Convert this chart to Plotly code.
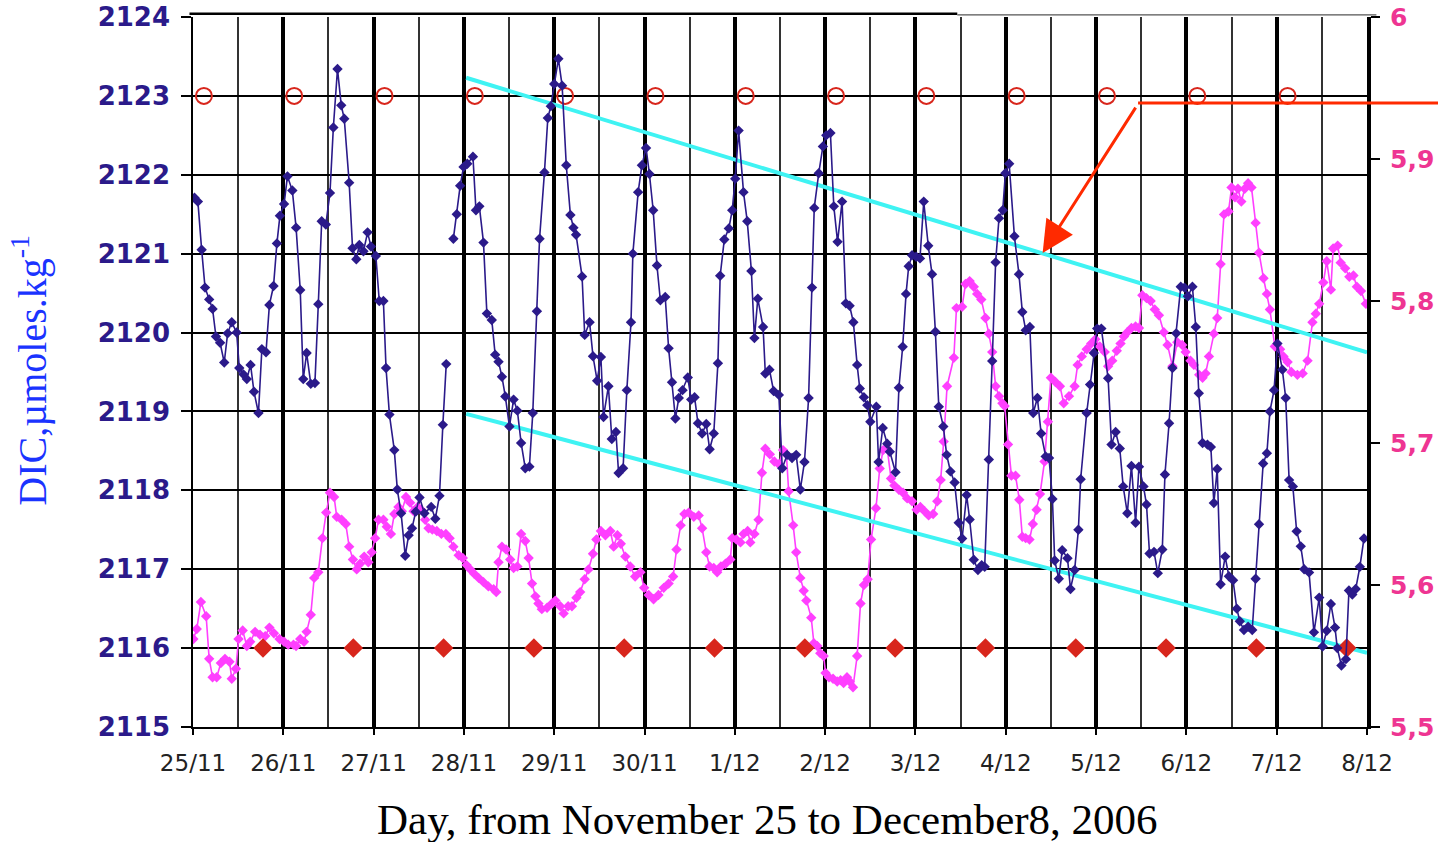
import datetime as dt
import plotly.graph_objects as go

# ---------------- data (hours since 25/11/2006 00:00) ----------------
dic_hours = [
    0.4, 1.3, 2.3, 3.2, 4.3, 5.2, 6.1, 7.2, 8.3, 9.2,
    10.3, 11.6, 12.3, 13.4, 14.3, 15.3, 16.2, 17.4, 18.3, 19.4,
    20.3, 21.4, 22.3, 23.1, 24.2, 25.1, 26.4, 27.4, 28.5, 29.3,
    30.2, 31.3, 32.4, 33.3, 34.2, 35.3, 36.4, 37.3, 38.4, 39.4,
    40.2, 41.5, 42.4, 43.4, 44.2, 45.3, 46.4, 47.3, 48.6, 49.5,
    50.6, 51.3, 52.2, 53.5, 54.3, 55.3, 56.4, 57.3, 58.2, 59.2,
    60.2, 61.5, 63.3, 64.4, 65.5, 66.4, 67.3,
    None,
    69.2, 70.1, 71.0, 71.9, 72.9, 74.4, 75.2, 76.1, 77.2, 78.1,
    79.4, 80.3, 81.2, 82.1, 83.0, 84.1, 85.2, 86.2, 87.2, 88.3,
    89.4, 90.3, 91.4, 92.1, 93.4, 94.3, 95.1, 96.0, 97.1, 98.1,
    99.2, 100.3, 101.1, 101.8, 103.4, 104.1, 105.4, 106.3, 107.4, 108.4,
    109.1, 110.4, 111.3, 112.4, 113.1, 114.3, 115.3, 116.4, 116.9, 118.3,
    119.3, 120.4, 121.3, 122.3, 123.3, 124.2, 125.5, 126.4, 127.3, 128.2,
    129.1, 130.1, 131.5, 132.4, 133.3, 134.2, 135.3, 136.4, 137.3, 138.4,
    139.5, 140.1, 141.2, 142.4, 143.3, 144.1, 145.0, 146.3, 147.3, 148.4,
    149.2, 150.1, 151.5, 152.1, 153.2, 154.3, 155.7, 156.6, 157.9, 159.2,
    160.3, 161.4, 162.5, 163.6, 164.5, 165.1, 166.3, 167.4, 168.3, 169.4,
    170.3, 171.3, 172.5, 173.5, 174.5, 175.5, 176.5, 177.2, 178.3, 179.2,
    180.0, 181.6, 182.2, 183.3, 184.5, 185.2, 186.7, 187.6, 188.6, 189.5,
    190.2, 191.1, 192.2, 193.2, 194.2, 195.4, 196.4, 197.3, 198.2, 199.4,
    200.3, 201.3, 202.4, 203.5, 204.4, 205.6, 206.4, 207.5, 208.6, 209.6,
    210.4, 211.5, 212.4, 213.3, 214.2, 215.2, 215.9, 216.9, 218.3, 219.5,
    220.4, 221.3, 222.4, 223.3, 224.4, 225.4, 226.6, 227.5, 228.4, 229.0,
    230.1, 231.0, 232.4, 233.2, 234.3, 235.3, 235.9, 237.5, 238.4, 239.4,
    240.3, 241.4, 243.2, 244.1, 245.2, 246.3, 247.2, 248.3, 249.4, 250.5,
    251.4, 252.6, 253.4, 254.2, 255.4, 256.4, 257.6, 258.3, 259.4, 260.3,
    261.3, 262.5, 263.5, 264.4, 265.6, 266.5, 267.3, 268.3, 269.6, 270.5,
    271.3, 272.2, 273.1, 274.3, 275.3, 276.4, 277.4, 278.2, 279.3, 280.4,
    281.5, 282.4, 283.3, 284.4, 285.4, 286.2, 287.3, 288.2, 289.5, 290.4,
    291.3, 292.3, 293.3, 294.4, 295.3, 296.6, 297.9, 299.3, 300.2, 301.3,
    302.4, 303.5, 304.1, 305.2, 306.4, 307.2, 308.1, 309.0, 310.1, 311.2,
]
dic_values = [
    2121.71, 2121.66, 2121.05, 2120.57, 2120.42, 2120.30, 2119.95, 2119.87, 2119.62, 2119.99,
    2120.13, 2120.00, 2119.55, 2119.47, 2119.41, 2119.59, 2119.25, 2118.98, 2119.79, 2119.75,
    2120.35, 2120.59, 2121.13, 2121.48, 2121.63, 2121.98, 2121.80, 2121.33, 2120.54, 2119.41,
    2119.74, 2119.35, 2119.36, 2120.36, 2121.41, 2121.37, 2121.77, 2122.60, 2123.34, 2122.88,
    2122.71, 2121.90, 2121.07, 2120.93, 2121.11, 2121.03, 2121.27, 2121.09, 2120.97, 2120.40,
    2120.40, 2119.55, 2118.96, 2118.51, 2118.01, 2117.71, 2117.17, 2117.43, 2117.52, 2117.73,
    2117.91, 2117.71, 2117.79, 2117.64, 2117.93, 2118.83, 2119.60,
    None,
    2121.19, 2121.50, 2121.86, 2122.10, 2122.14, 2122.23, 2121.55, 2121.60, 2121.14, 2120.24,
    2120.16, 2119.72, 2119.63, 2119.44, 2119.19, 2118.81, 2119.15, 2119.01, 2118.60, 2118.28,
    2118.30, 2118.98, 2120.27, 2121.19, 2122.03, 2122.72, 2122.87, 2123.15, 2123.47, 2123.13,
    2122.12, 2121.49, 2121.33, 2121.24, 2120.71, 2119.97, 2120.13, 2119.70, 2119.39, 2119.69,
    2118.93, 2119.32, 2118.65, 2118.74, 2118.22, 2118.28, 2119.27, 2120.13, 2121.00, 2121.78,
    2122.12, 2122.34, 2122.01, 2121.55, 2120.85, 2120.41, 2120.45, 2119.80, 2119.37, 2118.91,
    2119.17, 2119.27, 2119.43, 2119.15, 2119.18, 2118.85, 2118.72, 2118.84, 2118.52, 2118.72,
    2119.61, 2120.72, 2121.18, 2121.32, 2121.55, 2121.95, 2122.56, 2121.78, 2121.41, 2120.78,
    2119.93, 2120.43, 2120.07, 2119.48, 2119.53, 2119.26, 2119.21, 2118.28, 2118.45, 2118.41,
    2118.45, 2118.01, 2118.36, 2119.17, 2120.57, 2121.58, 2122.02, 2122.36, 2122.50, 2122.53,
    2121.60, 2121.15, 2121.66, 2120.37, 2120.34, 2120.13, 2119.59, 2119.29, 2119.18, 2119.08,
    2118.87, 2119.06, 2118.36, 2118.79, 2118.59, 2118.49, 2118.23, 2119.30, 2119.82, 2120.49,
    2120.84, 2120.98, 2120.96, 2120.94, 2121.66, 2121.10, 2120.74, 2120.01, 2119.06, 2118.81,
    2118.45, 2118.24, 2118.10, 2117.59, 2117.39, 2117.94, 2117.63, 2117.12, 2116.99, 2117.05,
    2117.03, 2118.39, 2119.64, 2120.89, 2121.45, 2121.55, 2122.02, 2122.14, 2121.22, 2120.74,
    2120.26, 2120.03, 2120.07, 2118.98, 2119.17, 2118.72, 2118.43, 2118.41, 2117.89, 2117.11,
    2116.88, 2117.24, 2117.14, 2116.75, 2116.99, 2117.50, 2118.14, 2118.98, 2119.34, 2119.74,
    2120.05, 2120.05, 2119.42, 2118.58, 2118.74, 2118.53, 2118.05, 2117.71, 2118.31, 2117.59,
    2118.30, 2118.05, 2117.82, 2117.20, 2117.22, 2116.95, 2117.25, 2118.20, 2118.85, 2119.55,
    2119.99, 2120.58, 2120.57, 2120.46, 2120.58, 2120.07, 2119.23, 2118.60, 2118.58, 2118.55,
    2117.84, 2118.27, 2116.81, 2117.16, 2116.91, 2116.86, 2116.50, 2116.34, 2116.23, 2116.27,
    2116.23, 2116.88, 2117.57, 2118.34, 2118.47, 2119.00, 2119.27, 2119.86, 2119.53, 2119.17,
    2118.13, 2118.05, 2117.48, 2117.29, 2117.00, 2116.96, 2116.20, 2116.64, 2116.02, 2116.22,
    2116.56, 2116.26, 2116.00, 2115.78, 2115.86, 2116.73, 2116.68, 2116.75, 2117.03, 2117.39,
]

ph_hours = [
    0.1, 1.0, 2.1, 3.5, 4.3, 5.2, 6.3, 7.4, 8.5, 9.7,
    10.3, 11.4, 12.1, 13.2, 14.3, 15.2, 16.5, 17.8, 19.2, 20.3,
    21.5, 23.0, 24.2, 25.3, 26.7, 27.4, 28.5, 29.5, 30.2, 31.3,
    32.2, 33.3, 34.4, 35.4, 36.4, 37.5, 38.2, 39.5, 40.6, 41.5,
    42.5, 43.5, 44.4, 45.5, 46.6, 47.5, 48.4, 49.3, 50.6, 51.5,
    52.6, 53.5, 54.6, 55.5, 56.6, 57.7, 58.6, 59.7, 60.6, 61.7,
    62.6, 63.6, 64.8, 66.0, 67.2, 68.2, 69.2, 70.6, 71.7, 72.7,
    73.7, 74.7, 75.9, 77.2, 78.5, 79.9, 80.6, 81.2, 82.1, 83.2,
    84.3, 85.2, 86.2, 87.2, 88.3, 89.2, 90.1, 91.0, 91.8, 92.7,
    94.1, 95.4, 96.3, 97.6, 98.5, 99.7, 100.7, 101.9, 102.9, 104.1,
    105.1, 106.3, 107.2, 108.4, 109.6, 110.9, 111.8, 112.8, 113.7, 114.9,
    116.2, 117.5, 118.9, 119.9, 121.1, 122.4, 123.7, 125.1, 126.4, 127.6,
    128.5, 129.6, 130.6, 131.7, 133.1, 134.4, 135.3, 136.4, 137.3, 138.4,
    139.3, 140.3, 141.5, 142.8, 143.3, 144.4, 145.5, 146.3, 147.4, 148.1,
    149.2, 150.3, 151.2, 152.1, 153.3, 154.5, 155.7, 156.8, 157.7, 158.3,
    159.5, 160.3, 161.4, 162.3, 163.0, 164.3, 165.0, 165.9, 166.7, 167.6,
    168.1, 169.0, 170.1, 171.2, 172.1, 172.9, 173.8, 174.5, 175.4, 176.5,
    177.4, 178.3, 179.3, 180.2, 181.5, 182.5, 183.4, 184.5, 185.5, 186.4,
    187.6, 188.7, 189.8, 191.1, 192.3, 193.3, 194.4, 195.5, 196.7, 197.8,
    198.7, 199.5, 200.4, 202.2, 202.9, 204.4, 205.3, 206.4, 207.5, 208.4,
    209.5, 210.6, 211.5, 212.4, 213.3, 214.2, 215.1, 215.7, 216.6, 217.5,
    218.6, 219.6, 220.4, 221.3, 222.3, 223.2, 224.2, 225.1, 226.3, 227.2,
    228.0, 229.2, 230.4, 231.4, 232.8, 234.3, 235.1, 236.2, 237.5, 238.7,
    239.8, 241.0, 242.3, 243.2, 244.3, 245.5, 246.5, 247.4, 248.3, 249.4,
    250.5, 251.4, 252.3, 253.4, 254.5, 255.6, 256.7, 258.0, 259.0, 260.3,
    261.6, 262.9, 263.8, 265.1, 266.0, 267.4, 268.3, 269.1, 270.0, 271.3,
    272.2, 273.1, 274.0, 275.2, 276.0, 276.9, 277.7, 278.6, 279.5, 280.4,
    281.3, 282.4, 283.3, 284.5, 285.4, 286.2, 287.5, 288.9, 289.8, 290.9,
    291.9, 293.5, 294.9, 296.2, 297.5, 298.4, 299.3, 300.4, 301.3, 302.4,
    303.0, 304.2, 305.0, 306.2, 307.3, 308.4, 309.3, 310.4, 311.7,
]
ph_values = [
    5.562, 5.569, 5.588, 5.578, 5.548, 5.535, 5.535, 5.545, 5.548, 5.546,
    5.534, 5.541, 5.562, 5.568, 5.557, 5.560, 5.567, 5.565, 5.564, 5.570,
    5.566, 5.562, 5.560, 5.558, 5.558, 5.557, 5.562, 5.560, 5.567, 5.579,
    5.605, 5.609, 5.633, 5.651, 5.665, 5.662, 5.648, 5.646, 5.643, 5.627,
    5.618, 5.611, 5.615, 5.620, 5.616, 5.623, 5.633, 5.646, 5.646, 5.641,
    5.636, 5.650, 5.655, 5.652, 5.662, 5.658, 5.652, 5.655, 5.653, 5.646,
    5.640, 5.639, 5.638, 5.636, 5.636, 5.633, 5.627, 5.621, 5.619, 5.614,
    5.611, 5.608, 5.605, 5.602, 5.599, 5.597, 5.595, 5.616, 5.627, 5.625,
    5.618, 5.612, 5.613, 5.636, 5.631, 5.619, 5.601, 5.592, 5.587, 5.583,
    5.584, 5.587, 5.589, 5.585, 5.580, 5.585, 5.585, 5.591, 5.595, 5.604,
    5.611, 5.622, 5.632, 5.638, 5.635, 5.638, 5.627, 5.635, 5.629, 5.620,
    5.613, 5.606, 5.609, 5.598, 5.593, 5.590, 5.593, 5.598, 5.601, 5.606,
    5.625, 5.642, 5.650, 5.651, 5.648, 5.649, 5.640, 5.623, 5.613, 5.612,
    5.609, 5.613, 5.615, 5.618, 5.633, 5.632, 5.630, 5.636, 5.638, 5.630,
    5.636, 5.646, 5.679, 5.696, 5.692, 5.687, 5.685, 5.695, 5.692, 5.666,
    5.642, 5.623, 5.605, 5.596, 5.589, 5.577, 5.559, 5.557, 5.552, 5.550,
    5.538, 5.535, 5.534, 5.532, 5.533, 5.531, 5.535, 5.532, 5.528, 5.550,
    5.587, 5.600, 5.604, 5.632, 5.654, 5.682, 5.695, 5.696, 5.675, 5.670,
    5.667, 5.665, 5.661, 5.659, 5.653, 5.655, 5.652, 5.649, 5.650, 5.659,
    5.674, 5.701, 5.740, 5.760, 5.795, 5.796, 5.812, 5.814, 5.810, 5.805,
    5.801, 5.788, 5.777, 5.764, 5.740, 5.733, 5.728, 5.726, 5.699, 5.677,
    5.677, 5.660, 5.634, 5.633, 5.632, 5.643, 5.653, 5.664, 5.687, 5.715,
    5.746, 5.743, 5.740, 5.728, 5.733, 5.740, 5.755, 5.761, 5.766, 5.770,
    5.773, 5.768, 5.764, 5.754, 5.758, 5.765, 5.770, 5.775, 5.778, 5.781,
    5.782, 5.781, 5.804, 5.802, 5.800, 5.794, 5.790, 5.778, 5.769, 5.754,
    5.771, 5.769, 5.764, 5.758, 5.755, 5.748, 5.746, 5.749, 5.761, 5.777,
    5.788, 5.826, 5.861, 5.863, 5.880, 5.873, 5.879, 5.870, 5.879, 5.883,
    5.880, 5.855, 5.834, 5.816, 5.805, 5.794, 5.768, 5.766, 5.761, 5.757,
    5.750, 5.748, 5.749, 5.758, 5.785, 5.791, 5.798, 5.813, 5.828, 5.808,
    5.837, 5.839, 5.827, 5.823, 5.817, 5.818, 5.810, 5.807, 5.798,
]

circle_hours = [2.9, 26.9, 50.9, 74.9, 98.9, 122.9, 146.9, 170.9, 194.9, 218.9, 242.9, 266.9, 290.9]
circle_values = [2123] * 13
diamond_hours = [18.6, 42.6, 66.6, 90.6, 114.6, 138.6, 162.6, 186.6, 210.6, 234.6, 258.6, 282.6, 306.6]
diamond_values = [2116] * 13

trend_hours = [72.6, 312.0]
trend_upper = [2123.23, 2119.75]
trend_lower = [2118.97, 2115.94]

arrow_tip_hour = 225.8
arrow_tip_value = 2121.01

y_right_ticks = [5.5, 5.6, 5.7, 5.8, 5.9, 6.0]
y_right_labels = ["5,5", "5,6", "5,7", "5,8", "5,9", "6"]

BASE = dt.datetime(2006, 11, 25)


def to_dt(hours):
    return [None if h is None else BASE + dt.timedelta(hours=h) for h in hours]


NAVY = "#2B1A8A"
MAGENTA = "#FF3FFF"
RED = "#D8261C"
CYAN = "#3FF3F3"
PINK = "#EE3592"

fig = go.Figure()

# magenta series on primary y (right axis)
fig.add_trace(go.Scatter(
    x=to_dt(ph_hours), y=ph_values, mode="lines+markers", yaxis="y",
    line=dict(color=MAGENTA, width=1.6),
    marker=dict(symbol="diamond", size=8, color=MAGENTA),
    showlegend=False))

# left axis items (overlay, drawn above)
fig.add_trace(go.Scatter(
    x=to_dt(trend_hours), y=trend_upper, mode="lines", yaxis="y2",
    line=dict(color=CYAN, width=4), showlegend=False))
fig.add_trace(go.Scatter(
    x=to_dt(trend_hours), y=trend_lower, mode="lines", yaxis="y2",
    line=dict(color=CYAN, width=4), showlegend=False))
fig.add_trace(go.Scatter(
    x=to_dt(circle_hours), y=circle_values, mode="markers", yaxis="y2",
    marker=dict(symbol="circle-open", size=16, color=RED, line=dict(width=2, color=RED)),
    showlegend=False))
fig.add_trace(go.Scatter(
    x=to_dt(diamond_hours), y=diamond_values, mode="markers", yaxis="y2",
    marker=dict(symbol="diamond", size=15, color=RED),
    showlegend=False))
fig.add_trace(go.Scatter(
    x=to_dt(dic_hours), y=dic_values, mode="lines+markers", yaxis="y2",
    line=dict(color=NAVY, width=1.6),
    marker=dict(symbol="diamond", size=8, color=NAVY),
    connectgaps=False, showlegend=False))

fig.update_layout(
    width=1438, height=842,
    margin=dict(l=193, r=71, t=17, b=115, autoexpand=False),
    paper_bgcolor="white", plot_bgcolor="white",
    xaxis=dict(
        type="date", automargin=False,
        range=[BASE, BASE + dt.timedelta(days=13)],
        tick0=BASE, dtick=86400000, tickformat="%-d/%m",
        showgrid=True, gridcolor="black", gridwidth=4,
        minor=dict(dtick=43200000, showgrid=True, gridcolor="#333333", gridwidth=1.5, ticks=""),
        showline=True, linecolor="black", linewidth=2,
        ticks="outside", ticklen=6, tickwidth=1.5, tickcolor="black",
        ticklabelstandoff=8,
        tickfont=dict(family="DejaVu Sans", size=23, color="#222222"),
        zeroline=False,
    ),
    yaxis=dict(
        side="right", range=[5.5, 6.0], automargin=False,
        tickvals=y_right_ticks, ticktext=y_right_labels,
        showgrid=False, zeroline=False,
        showline=True, linecolor="black", linewidth=4,
        ticks="outside", ticklen=9, tickwidth=1.5, tickcolor="black",
        ticklabelstandoff=5,
        tickfont=dict(family="DejaVu Sans", size=25, color=PINK, weight="bold"),
    ),
    yaxis2=dict(
        side="left", overlaying="y", range=[2115, 2124], dtick=1, automargin=False,
        showgrid=True, gridcolor="black", gridwidth=1.5, zeroline=False,
        showline=True, linecolor="black", linewidth=1.5,
        ticks="outside", ticklen=10, tickwidth=1.5, tickcolor="black",
        ticklabelstandoff=6,
        tickfont=dict(family="DejaVu Sans", size=26, color=NAVY, weight="bold"),
    ),
    shapes=[
        dict(type="line", xref="paper", yref="paper", x0=-0.003, x1=0.651, y0=1.0045, y1=1.0045,
             line=dict(color="black", width=2.5)),
        dict(type="line", xref="paper", yref="paper", x0=0.651, x1=1.008, y0=1.003, y1=1.003,
             line=dict(color="#555555", width=1.2)),
        dict(type="line", xref="paper", yref="paper", x0=0.805, x1=1.07, y0=0.879, y1=0.879,
             line=dict(color="#FF2A00", width=3)),
    ],
    annotations=[
        dict(x=BASE + dt.timedelta(hours=arrow_tip_hour), y=arrow_tip_value, xref="x", yref="y2",
             ax=96, ay=-150, text=" ", showarrow=True, arrowhead=2, arrowsize=2.1,
             arrowwidth=3, arrowcolor="#FF2A00"),
        dict(text="DIC,µmoles.kg<sup>-1</sup>", textangle=-90, xref="paper", yref="paper",
             x=-0.139, y=0.503, xanchor="center", yanchor="middle", showarrow=False,
             font=dict(family="Liberation Serif", size=40, color="#1A33FF")),
        dict(text="Day, from November 25 to December8, 2006", xref="paper", yref="paper",
             x=0.489, y=-0.13, xanchor="center", yanchor="middle", showarrow=False,
             font=dict(family="Liberation Serif", size=43, color="black")),
    ],
)

fig.write_html("out.html")
